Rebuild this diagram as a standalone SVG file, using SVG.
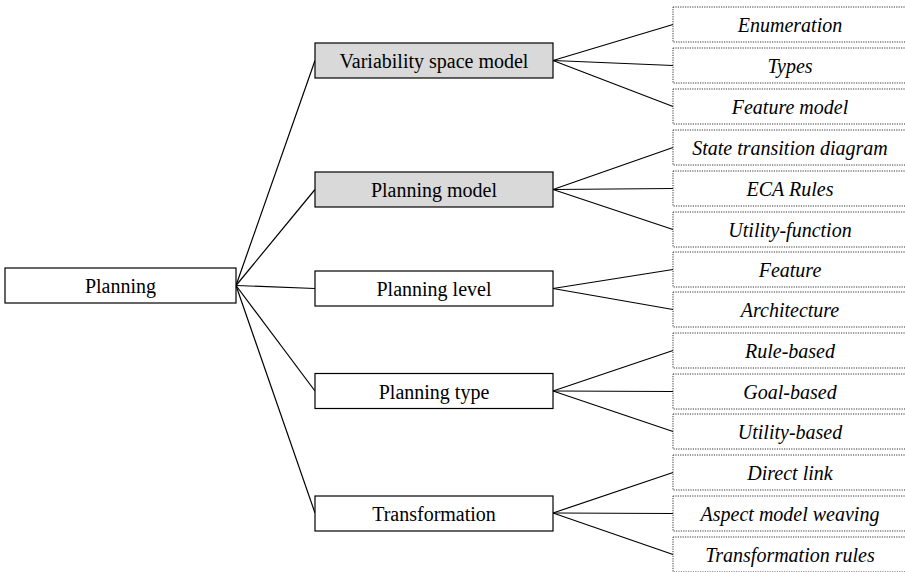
<svg xmlns="http://www.w3.org/2000/svg" width="905" height="572" viewBox="0 0 905 572">
<style>
.box{fill:#fff;stroke:#000;stroke-width:1.2}
.grey{fill:#d9d9d9;stroke:#000;stroke-width:1.2}
.leaf{fill:#fff;stroke:#333;stroke-width:1;stroke-dasharray:1.2,1.2}
.t{font-family:"Liberation Serif","Times New Roman",serif;font-size:20px;text-anchor:middle;fill:#000}
.i{font-style:italic}
.c{stroke:#000;stroke-width:1.2;fill:none}
</style>
<g id="connectors">
<line class="c" x1="236" y1="285.5" x2="315" y2="60.5"/>
<line class="c" x1="236" y1="285.5" x2="315" y2="189.5"/>
<line class="c" x1="236" y1="285.5" x2="315" y2="288.5"/>
<line class="c" x1="236" y1="285.5" x2="315" y2="391"/>
<line class="c" x1="236" y1="285.5" x2="315" y2="513"/>
<line class="c" x1="553" y1="60.5" x2="673" y2="24.5"/>
<line class="c" x1="553" y1="60.5" x2="673" y2="65.5"/>
<line class="c" x1="553" y1="60.5" x2="673" y2="106.5"/>
<line class="c" x1="553" y1="189.5" x2="673" y2="147.5"/>
<line class="c" x1="553" y1="189.5" x2="673" y2="188.5"/>
<line class="c" x1="553" y1="189.5" x2="673" y2="229.5"/>
<line class="c" x1="553" y1="288.5" x2="673" y2="269.5"/>
<line class="c" x1="553" y1="288.5" x2="673" y2="309.5"/>
<line class="c" x1="553" y1="391" x2="673" y2="350.5"/>
<line class="c" x1="553" y1="391" x2="673" y2="391.5"/>
<line class="c" x1="553" y1="391" x2="673" y2="431.5"/>
<line class="c" x1="553" y1="513" x2="673" y2="472.5"/>
<line class="c" x1="553" y1="513" x2="673" y2="513.5"/>
<line class="c" x1="553" y1="513" x2="673" y2="554.5"/>
</g>
<g id="planning"><rect class="box" x="5" y="268" width="231" height="35"/><text class="t" x="120.5" y="293">Planning</text></g>
<g id="variability"><rect class="grey" x="315" y="43" width="238" height="35"/><text class="t" x="434" y="68">Variability space model</text></g>
<g id="planning-model"><rect class="grey" x="315" y="172" width="238" height="35"/><text class="t" x="434" y="197">Planning model</text></g>
<g id="planning-level"><rect class="box" x="315" y="271" width="238" height="35"/><text class="t" x="434" y="296">Planning level</text></g>
<g id="planning-type"><rect class="box" x="315" y="373.5" width="238" height="35"/><text class="t" x="434" y="398.5">Planning type</text></g>
<g id="transformation"><rect class="box" x="315" y="496" width="238" height="35"/><text class="t" x="434" y="521">Transformation</text></g>
<g id="enumeration"><rect class="leaf" x="673" y="7" width="245" height="35"/><text class="t i" x="790" y="32">Enumeration</text></g>
<g id="types"><rect class="leaf" x="673" y="48" width="245" height="35"/><text class="t i" x="790" y="73">Types</text></g>
<g id="feature-model"><rect class="leaf" x="673" y="89" width="245" height="35"/><text class="t i" x="790" y="114">Feature model</text></g>
<g id="state-transition"><rect class="leaf" x="673" y="130" width="245" height="35"/><text class="t i" x="790" y="155">State transition diagram</text></g>
<g id="eca"><rect class="leaf" x="673" y="171" width="245" height="35"/><text class="t i" x="790" y="196">ECA Rules</text></g>
<g id="utility-function"><rect class="leaf" x="673" y="212" width="245" height="35"/><text class="t i" x="790" y="237">Utility-function</text></g>
<g id="feature"><rect class="leaf" x="673" y="252" width="245" height="35"/><text class="t i" x="790" y="277">Feature</text></g>
<g id="architecture"><rect class="leaf" x="673" y="292" width="245" height="35"/><text class="t i" x="790" y="317">Architecture</text></g>
<g id="rule-based"><rect class="leaf" x="673" y="333" width="245" height="35"/><text class="t i" x="790" y="358">Rule-based</text></g>
<g id="goal-based"><rect class="leaf" x="673" y="374" width="245" height="35"/><text class="t i" x="790" y="399">Goal-based</text></g>
<g id="utility-based"><rect class="leaf" x="673" y="414" width="245" height="35"/><text class="t i" x="790" y="439">Utility-based</text></g>
<g id="direct-link"><rect class="leaf" x="673" y="455" width="245" height="35"/><text class="t i" x="790" y="480">Direct link</text></g>
<g id="aspect"><rect class="leaf" x="673" y="496" width="245" height="35"/><text class="t i" x="790" y="521">Aspect model weaving</text></g>
<g id="transformation-rules"><rect class="leaf" x="673" y="537" width="245" height="35"/><text class="t i" x="790" y="562">Transformation rules</text></g>
</svg>
